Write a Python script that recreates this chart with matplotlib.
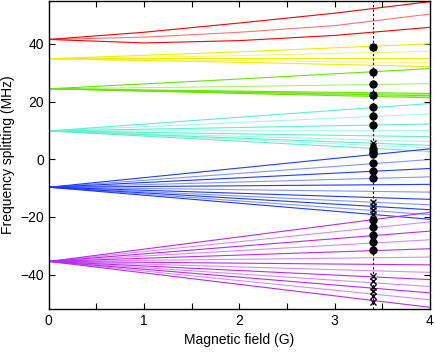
import numpy as np
import matplotlib
matplotlib.use('Agg')
import matplotlib.pyplot as plt
from matplotlib.ticker import MultipleLocator

plt.rcParams['font.family'] = ['Liberation Sans', 'DejaVu Sans']

# magnetic field sample points (G)
field_5 = [0, 1, 2, 3, 4]
field_3 = [0, 2, 4]
field_2 = [0, 4]

# splitting (MHz)
red_lines = [
    [41.5, 44.0, 47.2, 50.6, 54.6],
    [41.5, 42.3, 44.0, 46.3, 50.3],
    [41.5, 40.3, 41.1, 42.9, 45.7],
]
yellow_lines = [
    [34.8, 37.2, 40.0],
    [34.8, 35.9, 37.4],
    [34.8, 34.9, 34.9],
    [34.8, 34.2, 33.4],
    [34.8, 33.6, 32.1],
]
green_lines = [
    [24.4, 27.8, 31.4],
    [24.4, 25.2, 26.2],
    [24.4, 23.6, 22.8],
    [24.4, 23.4, 22.4],
    [24.4, 23.2, 22.0],
    [24.4, 23.0, 21.6],
    [24.4, 22.8, 21.3],
]
cyan_start = 9.8
cyan_end = [19.3, 15.7, 12.2, 9.9, 7.8, 6.1, 4.8, 3.9, 2.7]
blue_start = -9.7
blue_end = [3.6, -0.1, -3.2, -6.1, -8.7, -11.4, -13.9, -15.8, -17.5, -19.2, -20.8]
magenta_start = -35.4
magenta_end = [-18.4, -21.7, -24.9, -27.9, -31.0, -33.9, -36.6, -39.2,
               -41.7, -44.1, -46.3, -48.7, -51.3]

# markers at the chosen field
b_mark = 3.4
dots = [38.8, 30.2, 26.2, 22.3, 18.1, 14.9, 12.0, 3.6, 2.6, 1.8, -1.2, -4.0,
        -6.6, -21.0, -23.5, -26.2, -28.7, -31.4]
crosses = [38.8, 22.3, 5.6, 4.6, -14.7, -16.2, -17.6, -19.0, -40.4, -42.3,
           -44.1, -45.8, -47.5, -49.6]

fig = plt.figure(figsize=(4.36, 3.54), dpi=100)
ax = fig.add_axes([0.112, 0.127, 0.874, 0.870])

def draw(x, lines, color):
    for i, y in enumerate(lines):
        a = 1.0 if i % 2 == 0 else 0.55
        ax.plot(x, y, color=color, lw=0.8, alpha=a)

draw(field_5, red_lines, '#ff0000')
draw(field_3, yellow_lines, '#eeee00')
draw(field_3, green_lines, '#66e600')
draw(field_2, [[cyan_start, e] for e in cyan_end], '#5ef0d0')
draw(field_2, [[blue_start, e] for e in blue_end], '#1f3cff')
draw(field_2, [[magenta_start, e] for e in magenta_end], '#b82cf0')

ax.axvline(b_mark, color='black', ls='--', lw=0.8, dashes=(2, 2))
ax.plot([b_mark] * len(dots), dots, 'o', color='black', ms=5)
ax.plot([b_mark] * len(crosses), crosses, 'x', color='black', ms=4.5, mew=1)

ax.set_xlim(0, 4)
ax.set_ylim(-51.9, 54.8)
ax.xaxis.set_major_locator(MultipleLocator(1))
ax.xaxis.set_minor_locator(MultipleLocator(0.5))
ax.yaxis.set_major_locator(MultipleLocator(20))
ax.tick_params(which='both', direction='in', top=True, right=True,
               length=4, width=0.8, labelsize=10)
for s in ax.spines.values():
    s.set_linewidth(1.0)
ax.set_xlabel('Magnetic field (G)', fontsize=10)
ax.set_ylabel('Frequency splitting (MHz)', fontsize=10)

fig.savefig('out.png', dpi=100)
